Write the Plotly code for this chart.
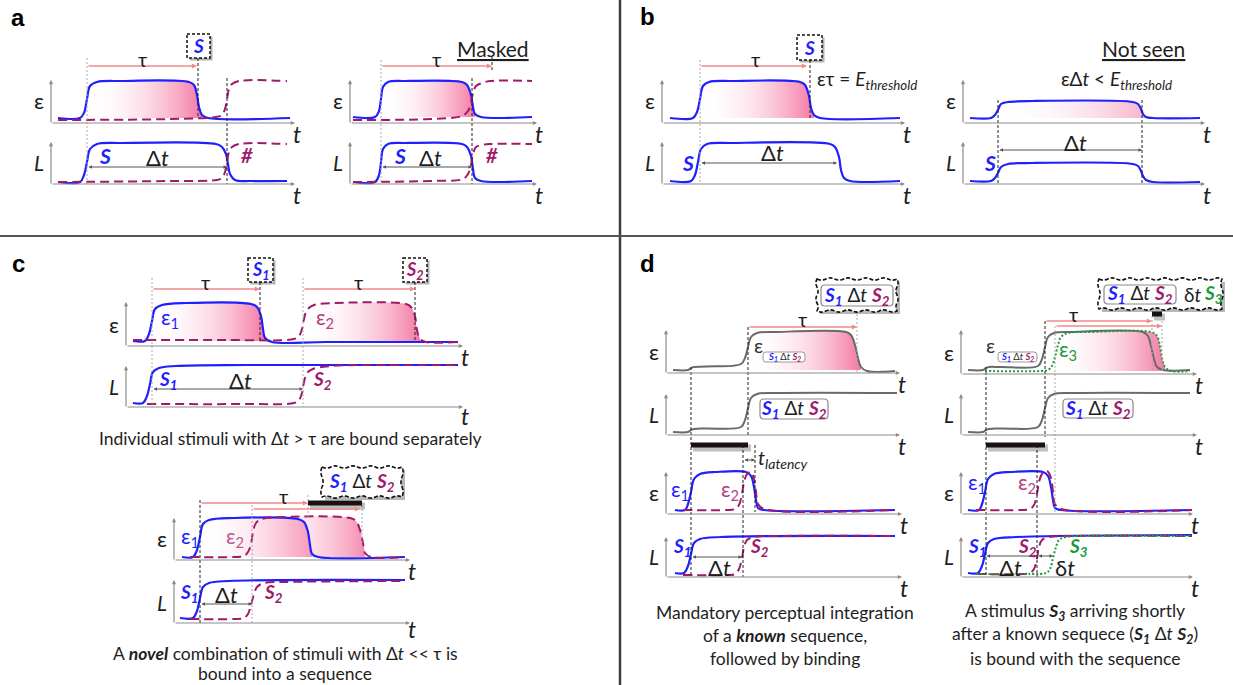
import plotly.graph_objects as go

W, H = 1233, 685
FONT = "Lato, 'Open Sans', 'DejaVu Sans', sans-serif"
BOLDFONT = "'Liberation Sans', Arial, sans-serif"
BLUE = '#1f1fff'
PURPLE = '#a0196b'
GREEN = '#1b9a3c'
GRAY = '#6a6a6a'
DARK = '#1e1e1e'

# ============================ DATA ============================
# Each curve: t = time (axis units from the origin), v = level (units above time axis)
# --- panel a, left ---
A1E_BLUE_T = [7, 29, 33, 36, 39, 46, 70, 138, 143, 146, 148, 151, 157, 239]
A1E_BLUE_V = [5, 5, 10, 24, 37, 41, 42, 41, 38, 28, 16, 8, 5, 5]
A1E_PURP_T = [7, 120, 165, 171, 174, 176, 178, 181, 188, 236]
A1E_PURP_V = [3, 4, 6, 8, 14, 24, 34, 39, 42, 42]
A1L_BLUE_T = [7, 29, 33, 36, 39, 46, 70, 165, 171, 175, 177, 179, 184, 200, 236]
A1L_BLUE_V = [2, 2, 9, 22, 35, 40, 41, 40, 37, 30, 20, 10, 4, 3, 3]
A1L_PURP_T = [7, 120, 166, 171, 174, 176, 178, 181, 188, 236]
A1L_PURP_V = [2, 3, 4, 6, 12, 22, 32, 37, 40, 40]
# --- panel a, right (masked) ---
A2E_BLUE_T = [3, 25, 29, 31, 33, 38, 55, 112, 117, 121, 123, 125, 131, 182]
A2E_BLUE_V = [6, 6, 12, 24, 36, 41, 42, 41, 38, 28, 16, 9, 6, 6]
A2E_PURP_T = [3, 80, 112, 118, 121, 123, 126, 132, 140, 182]
A2E_PURP_V = [3, 4, 7, 12, 20, 30, 37, 40, 42, 42]
A2L_BLUE_T = [3, 25, 29, 31, 33, 38, 55, 112, 117, 121, 123, 125, 131, 182]
A2L_BLUE_V = [2, 2, 9, 22, 35, 40, 41, 40, 37, 28, 15, 6, 3, 3]
A2L_PURP_T = [3, 80, 113, 118, 121, 123, 126, 132, 140, 182]
A2L_PURP_V = [2, 3, 5, 10, 19, 30, 37, 39, 40, 40]
# --- panel b ---
B1E_BLUE_T = [8, 31, 35, 38, 41, 47, 70, 138, 143, 147, 149, 152, 158, 238]
B1E_BLUE_V = [5, 5, 11, 24, 37, 41, 42, 41, 38, 27, 15, 8, 5, 5]
B1L_BLUE_T = [8, 29, 33, 36, 39, 45, 70, 168, 173, 177, 179, 182, 188, 238]
B1L_BLUE_V = [3, 3, 9, 22, 35, 40, 41, 40, 37, 27, 14, 6, 3, 3]
B2E_BLUE_T = [7, 28, 32, 35, 38, 45, 70, 170, 175, 178, 180, 183, 190, 237]
B2E_BLUE_V = [5, 5, 8, 13, 19, 21, 22, 21, 19, 14, 9, 6, 5, 5]
B2L_BLUE_T = [7, 28, 32, 35, 38, 45, 70, 170, 175, 178, 180, 183, 190, 237]
B2L_BLUE_V = [3, 3, 6, 11, 17, 20, 21, 20, 18, 13, 8, 4, 2, 2]
# --- panel c, top ---
C1E_BLUE_T = [7, 19, 23, 26, 29, 36, 60, 125, 131, 135, 137, 139, 146, 200, 332]
C1E_BLUE_V = [5, 5, 12, 25, 37, 41, 43, 42, 39, 30, 17, 8, 4, 4, 4]
C1E_PURP_T = [7, 100, 168, 173, 176, 178, 181, 188, 210, 280, 285, 289, 291, 294, 300, 332]
C1E_PURP_V = [6, 6, 7, 10, 17, 27, 36, 41, 43, 42, 39, 30, 16, 7, 4, 4]
C1L_BLUE_T = [7, 17, 21, 24, 27, 33, 50, 120, 332]
C1L_BLUE_V = [4, 4, 11, 23, 35, 39, 41, 42, 42]
C1L_PURP_T = [21, 120, 168, 173, 176, 178, 181, 187, 205, 260, 332]
C1L_PURP_V = [3, 3, 4, 7, 14, 25, 34, 38, 41, 42, 42]
# --- panel c, bottom ---
C2E_BLUE_T = [8, 19, 23, 26, 29, 35, 60, 124, 130, 134, 136, 138, 144, 231]
C2E_BLUE_V = [3, 3, 10, 23, 36, 40, 42, 41, 38, 28, 15, 6, 3, 3]
C2E_PURP_T = [16, 60, 70, 74, 77, 79, 82, 88, 110, 176, 182, 186, 189, 191, 197, 231]
C2E_PURP_V = [3, 3, 4, 8, 16, 28, 37, 41, 43, 42, 39, 30, 17, 7, 3, 3]
C2L_BLUE_T = [6, 19, 23, 26, 29, 35, 55, 231]
C2L_BLUE_V = [5, 5, 12, 25, 36, 40, 42, 43]
C2L_PURP_T = [16, 60, 70, 74, 77, 80, 83, 90, 110, 231]
C2L_PURP_V = [4, 4, 5, 9, 18, 29, 36, 40, 41, 42]
# --- panel d, left ---
D1E_GRAY_T = [7, 22, 25, 28, 40, 75, 79, 82, 85, 91, 110, 180, 185, 189, 192, 195, 201, 229]
D1E_GRAY_V = [3, 3, 5, 6, 6.5, 9, 15, 26, 36, 40, 41, 41, 38, 28, 15, 6, 2, 2]
D1L_GRAY_T = [7, 22, 25, 28, 40, 75, 79, 82, 85, 91, 110, 231]
D1L_GRAY_V = [3, 3, 5, 6, 6.5, 8, 15, 27, 37, 41, 42, 42]
D1E2_BLUE_T = [9, 19, 22, 25, 28, 34, 50, 80, 85, 88, 90, 92, 98, 229]
D1E2_BLUE_V = [4, 4, 10, 22, 35, 40, 42, 42, 38, 27, 14, 6, 4, 4]
D1E2_PURP_T = [17, 60, 69, 73, 76, 78, 81, 85, 88, 90, 92, 98, 229]
D1E2_PURP_V = [4, 4, 5, 9, 20, 32, 40, 42, 35, 22, 10, 5, 4]
D1L2_BLUE_T = [9, 18, 22, 25, 28, 34, 55, 229]
D1L2_BLUE_V = [4, 4, 11, 23, 34, 38, 40, 41]
D1L2_PURP_T = [17, 60, 69, 73, 76, 78, 81, 88, 110, 229]
D1L2_PURP_V = [2, 2, 3, 8, 19, 30, 37, 40, 41, 41]
# --- panel d, right ---
D2E_GRAY_T = [7, 22, 25, 28, 40, 77, 81, 84, 87, 93, 110, 182, 187, 190, 193, 196, 202, 229]
D2E_GRAY_V = [4, 4, 6, 7, 7, 8, 15, 27, 37, 41, 42, 42, 38, 28, 15, 7, 4, 4]
D2E_GREEN_T = [24, 80, 87, 91, 94, 97, 100, 107, 130, 190, 196, 199, 201, 204, 210, 229]
D2E_GREEN_V = [3, 3, 4, 8, 17, 29, 37, 41, 42, 42, 38, 28, 16, 7, 3, 3]
D2L_GRAY_T = [7, 22, 25, 28, 40, 77, 81, 84, 87, 93, 110, 229]
D2L_GRAY_V = [3, 3, 5, 6, 6.5, 8, 15, 27, 37, 41, 42, 42]
D2E2_BLUE_T = [7, 18, 21, 24, 27, 33, 50, 82, 87, 90, 92, 94, 100, 231]
D2E2_BLUE_V = [4, 4, 10, 22, 35, 40, 42, 42, 38, 27, 14, 6, 4, 4]
D2E2_PURP_T = [15, 60, 69, 73, 76, 78, 81, 86, 90, 92, 94, 100, 231]
D2E2_PURP_V = [4, 4, 5, 9, 20, 32, 40, 43, 36, 22, 10, 5, 4]
D2L2_BLUE_T = [7, 17, 21, 24, 27, 33, 55, 231]
D2L2_BLUE_V = [4, 4, 11, 23, 34, 38, 40, 42]
D2L2_PURP_T = [15, 60, 69, 73, 76, 78, 81, 88, 110, 231]
D2L2_PURP_V = [3, 3, 4, 8, 19, 30, 37, 40, 41, 41]
D2L2_GREEN_T = [15, 70, 85, 89, 92, 95, 98, 105, 130, 231]
D2L2_GREEN_V = [3, 3, 4, 8, 19, 30, 37, 40, 41, 41]

# ============================ LAYOUT ============================
# panel frame (figure px): origin x, time-axis y, time-axis end x, level-axis top y
FRAMES = {
    'a1e': (51, 123, 295, 80), 'a1L': (51, 184, 295, 142),
    'a2e': (350, 123, 537, 80), 'a2L': (350, 184, 537, 142),
    'b1e': (662, 123, 905, 80), 'b1L': (662, 184, 905, 142),
    'b2e': (963, 123, 1205, 80), 'b2L': (963, 184, 1205, 142),
    'c1e': (126, 346, 463, 302), 'c1L': (126, 407, 463, 366),
    'c2e': (174, 560, 410, 518), 'c2L': (174, 623, 410, 580),
    'd1e': (666, 373, 900, 330), 'd1L': (666, 435, 900, 394),
    'd1e2': (666, 514, 902, 472), 'd1L2': (666, 577, 902, 537),
    'd2e': (961, 374, 1197, 330), 'd2L': (961, 435, 1197, 394),
    'd2e2': (961, 514, 1193, 472), 'd2L2': (961, 577, 1193, 537),
}

CURVES = [
    ('a1e', A1E_BLUE_T, A1E_BLUE_V, 'blue'), ('a1e', A1E_PURP_T, A1E_PURP_V, 'purple'),
    ('a1L', A1L_BLUE_T, A1L_BLUE_V, 'blue'), ('a1L', A1L_PURP_T, A1L_PURP_V, 'purple'),
    ('a2e', A2E_BLUE_T, A2E_BLUE_V, 'blue'), ('a2e', A2E_PURP_T, A2E_PURP_V, 'purple'),
    ('a2L', A2L_BLUE_T, A2L_BLUE_V, 'blue'), ('a2L', A2L_PURP_T, A2L_PURP_V, 'purple'),
    ('b1e', B1E_BLUE_T, B1E_BLUE_V, 'blue'), ('b1L', B1L_BLUE_T, B1L_BLUE_V, 'blue'),
    ('b2e', B2E_BLUE_T, B2E_BLUE_V, 'blue'), ('b2L', B2L_BLUE_T, B2L_BLUE_V, 'blue'),
    ('c1e', C1E_BLUE_T, C1E_BLUE_V, 'blue'), ('c1e', C1E_PURP_T, C1E_PURP_V, 'purple'),
    ('c1L', C1L_BLUE_T, C1L_BLUE_V, 'blue'), ('c1L', C1L_PURP_T, C1L_PURP_V, 'purple'),
    ('c2e', C2E_BLUE_T, C2E_BLUE_V, 'blue'), ('c2e', C2E_PURP_T, C2E_PURP_V, 'purple'),
    ('c2L', C2L_BLUE_T, C2L_BLUE_V, 'blue'), ('c2L', C2L_PURP_T, C2L_PURP_V, 'purple'),
    ('d1e', D1E_GRAY_T, D1E_GRAY_V, 'gray'), ('d1L', D1L_GRAY_T, D1L_GRAY_V, 'gray'),
    ('d1e2', D1E2_BLUE_T, D1E2_BLUE_V, 'blue'), ('d1e2', D1E2_PURP_T, D1E2_PURP_V, 'purple'),
    ('d1L2', D1L2_BLUE_T, D1L2_BLUE_V, 'blue'), ('d1L2', D1L2_PURP_T, D1L2_PURP_V, 'purple'),
    ('d2e', D2E_GRAY_T, D2E_GRAY_V, 'gray'), ('d2e', D2E_GREEN_T, D2E_GREEN_V, 'green'),
    ('d2L', D2L_GRAY_T, D2L_GRAY_V, 'gray'),
    ('d2e2', D2E2_BLUE_T, D2E2_BLUE_V, 'blue'), ('d2e2', D2E2_PURP_T, D2E2_PURP_V, 'purple'),
    ('d2L2', D2L2_BLUE_T, D2L2_BLUE_V, 'blue'), ('d2L2', D2L2_PURP_T, D2L2_PURP_V, 'purple'),
    ('d2L2', D2L2_GREEN_T, D2L2_GREEN_V, 'green'),
]

PINK = 'rgba(244,112,158,0.95)'
PINK_LIGHT = 'rgba(245,160,190,0.8)'
# fill under a curve between two times, down to a base level
FILLS = [
    ('a1e', A1E_BLUE_T, A1E_BLUE_V, 36, 151, 5, PINK),
    ('a2e', A2E_BLUE_T, A2E_BLUE_V, 31, 125, 6, PINK),
    ('b1e', B1E_BLUE_T, B1E_BLUE_V, 38, 152, 5, PINK),
    ('b2e', B2E_BLUE_T, B2E_BLUE_V, 35, 183, 5, PINK_LIGHT),
    ('c1e', C1E_BLUE_T, C1E_BLUE_V, 26, 139, 5, PINK),
    ('c1e', C1E_PURP_T, C1E_PURP_V, 178, 294, 5, PINK),
    ('c2e', C2E_BLUE_T, C2E_BLUE_V, 26, 138, 3, 'rgba(244,100,150,0.75)'),
    ('c2e', C2E_PURP_T, C2E_PURP_V, 79, 191, 3, 'rgba(244,100,150,0.75)'),
    ('d1e', D1E_GRAY_T, D1E_GRAY_V, 82, 195, 3, PINK),
    ('d2e', D2E_GREEN_T, D2E_GREEN_V, 91, 204, 3, PINK),
]

STYLE = {
    'blue': dict(color=BLUE, width=2.2),
    'purple': dict(color=PURPLE, width=2, dash='9px,5px'),
    'green': dict(color=GREEN, width=2, dash='2px,2px'),
    'gray': dict(color=GRAY, width=2),
}

PADR, PADB, PADT = 4, 4, 6
fig = go.Figure()
layout_axes = {}
AX = {}
for i, name in enumerate(FRAMES):
    k = i + 1
    sfx = '' if k == 1 else str(k)
    ox, oy, xe, yt = FRAMES[name]
    x1p = xe + PADR
    yb, ytp = oy + PADB, yt - PADT
    layout_axes['xaxis' + sfx] = dict(domain=[ox / W, x1p / W], range=[0, x1p - ox], visible=False,
                                      anchor='y' + sfx, fixedrange=True)
    layout_axes['yaxis' + sfx] = dict(domain=[(H - yb) / H, (H - ytp) / H], range=[-PADB, oy - ytp],
                                      visible=False, anchor='x' + sfx, fixedrange=True)
    AX[name] = ('x' + sfx, 'y' + sfx)

for name, T, V, t0, t1, base, col in FILLS:
    xa, ya = AX[name]
    seg = [(t, v) for t, v in zip(T, V) if t0 <= t <= t1]
    fig.add_trace(go.Scatter(x=[seg[0][0], seg[-1][0]], y=[base, base], mode='lines',
                             line=dict(width=0), xaxis=xa, yaxis=ya, hoverinfo='skip', showlegend=False))
    fig.add_trace(go.Scatter(x=[s[0] for s in seg], y=[s[1] for s in seg], mode='lines',
                             line=dict(width=0, shape='spline', smoothing=1), fill='tonexty',
                             fillgradient=dict(type='horizontal',
                                               colorscale=[[0, 'rgba(255,255,255,0)'], [1, col]]),
                             xaxis=xa, yaxis=ya, hoverinfo='skip', showlegend=False))

for name, T, V, sty in CURVES:
    xa, ya = AX[name]
    fig.add_trace(go.Scatter(x=T, y=V, mode='lines',
                             line=dict(shape='spline', smoothing=1, **STYLE[sty]),
                             xaxis=xa, yaxis=ya, hoverinfo='skip', showlegend=False))

ann, shp = [], []


def P(x, y):
    return x / W, 1 - y / H


def text(x, y, s, size=18, color=DARK, xanchor='center', family=FONT):
    px_, py_ = P(x, y)
    ann.append(dict(x=px_, y=py_, xref='paper', yref='paper', text=s, showarrow=False,
                    font=dict(family=family, size=size, color=color), xanchor=xanchor, yanchor='middle'))


def arrow(x0, y0, x1, y1, color, width=1.0, size=0.8, both=False, head=2):
    hx, hy = P(x1, y1)
    ann.append(dict(x=hx, y=hy, xref='paper', yref='paper', ax=x0 - x1, ay=y0 - y1,
                    axref='pixel', ayref='pixel', text='', showarrow=True, arrowhead=head,
                    arrowsize=size, arrowwidth=width, arrowcolor=color,
                    arrowside='end+start' if both else 'end', startarrowhead=head,
                    startarrowsize=size, standoff=0, startstandoff=0))


def line(x0, y0, x1, y1, color, width=1.0, dash='solid'):
    a, b = P(x0, y0)
    c, d = P(x1, y1)
    shp.append(dict(type='line', xref='paper', yref='paper', x0=a, y0=b, x1=c, y1=d,
                    line=dict(color=color, width=width, dash=dash), layer='above'))


def rect(x0, y0, x1, y1, lc, lw, dash='solid', fill='white'):
    a, b = P(x0, y0)
    c, d = P(x1, y1)
    shp.append(dict(type='rect', xref='paper', yref='paper', x0=a, y0=b, x1=c, y1=d,
                    line=dict(color=lc, width=lw, dash=dash), fillcolor=fill, layer='above'))


def c(x, y):
    return f"{x / W:.5f},{1 - y / H:.5f}"


def rbox(x0, y0, x1, y1, r=4, lc='#8a8a8a', lw=1.2):
    path = (f"M{c(x0 + r, y0)} L{c(x1 - r, y0)} Q{c(x1, y0)} {c(x1, y0 + r)} L{c(x1, y1 - r)} "
            f"Q{c(x1, y1)} {c(x1 - r, y1)} L{c(x0 + r, y1)} Q{c(x0, y1)} {c(x0, y1 - r)} "
            f"L{c(x0, y0 + r)} Q{c(x0, y0)} {c(x0 + r, y0)} Z")
    shp.append(dict(type='path', xref='paper', yref='paper', path=path,
                    line=dict(color=lc, width=lw), fillcolor='white', layer='above'))


def wavy(x0, y0, x1, y1, amp=2.2, seg=9):
    # shadow
    rect(x0 + 3, y0 + 3, x1 + 3, y1 + 3, 'rgba(0,0,0,0)', 0, fill='rgba(0,0,0,0.28)')
    pts = [(x0, y0), (x1, y0), (x1, y1), (x0, y1), (x0, y0)]
    path = f"M{c(x0, y0)}"
    sgn = 1
    for (ax_, ay_), (bx, by) in zip(pts[:-1], pts[1:]):
        L = ((bx - ax_) ** 2 + (by - ay_) ** 2) ** 0.5
        n = max(2, int(round(L / seg)))
        nx, ny = -(by - ay_) / L, (bx - ax_) / L
        for j in range(n):
            sx, sy = ax_ + (bx - ax_) * j / n, ay_ + (by - ay_) * j / n
            ex, ey = ax_ + (bx - ax_) * (j + 1) / n, ay_ + (by - ay_) * (j + 1) / n
            mx, my = (sx + ex) / 2 + nx * amp * sgn, (sy + ey) / 2 + ny * amp * sgn
            path += f" Q{c(mx, my)} {c(ex, ey)}"
            sgn = -sgn
    path += " Z"
    shp.append(dict(type='path', xref='paper', yref='paper', path=path,
                    line=dict(color='#111', width=1.6, dash='4px,2px'), fillcolor='white', layer='above'))


def sbox(x0, y0, x1, y1):
    rect(x0 + 2.5, y0 + 2.5, x1 + 2.5, y1 + 2.5, 'rgba(0,0,0,0)', 0, fill='rgba(0,0,0,0.3)')
    rect(x0, y0, x1, y1, '#111', 1.5, dash='3px,2px')


def bar(x0, x1, y, w=5):
    line(x0 + 2, y + 3, x1 + 3, y + 3, 'rgba(0,0,0,0.25)', w + 2)
    line(x0, y, x1, y, '#1a1212', w)


AXC = '#8c8c8c'
# ---- axes with arrowheads and labels ----
for name, (ox, oy, xe, yt) in FRAMES.items():
    arrow(ox, oy, xe, oy, AXC, width=1.2, size=0.7)
    arrow(ox, oy + 1, ox, yt, AXC, width=1.2, size=0.7)
    dy = {'c1L': 9, 'c2L': 6}.get(name, 11)
    text(xe + 2, oy + dy, '<i>t</i>', size=23)
    if name.endswith('e') or name.endswith('e2'):
        text(ox - 12, oy - 22, 'ε', size=22)
    else:
        text(ox - 12, oy - 21, '<i>L</i>', size=21)

# ---- dividers ----
line(620, 0, 620, 685, '#3c3c3c', 2.5)
line(0, 236, 1233, 236, '#555555', 2.2)

# ---- panel letters ----
for s, x, y in [('a', 18, 18), ('b', 647, 17), ('c', 18, 264), ('d', 647, 263)]:
    text(x, y, f'<b>{s}</b>', size=24, color='#000', family=BOLDFONT)

TAU_LINE = '#f28a8a'


def S(n, col):
    sub = f'<sub>{n}</sub>' if n else ''
    return f"<span style='color:{col}'><b><i>S{sub}</i></b></span>"


SEQ = f"{S(1, BLUE)} Δ<i>t</i> {S(2, PURPLE)}"

# ---- tau arrows ----
for x0, x1, y in [(87, 197, 66), (381, 492, 66), (700, 807, 66), (152, 260, 289), (303, 415, 289),
                  (200, 308, 503), (252, 360, 509), (748, 857, 327), (1045, 1152, 321), (1055, 1162, 326)]:
    arrow(x0, y, x1, y, TAU_LINE, width=1.3, size=0.8)
for x, y in [(142, 59), (437, 59), (755, 59), (205, 282), (358, 282), (283, 496), (803, 319), (1073, 314)]:
    text(x, y, 'τ', size=20)

# ---- Δt arrows ----
for x0, x1, y in [(87, 227, 167), (381, 472, 167), (700, 837, 163), (998, 1142, 150), (152, 303, 389),
                  (200, 252, 604), (691, 742, 557), (985, 1037, 556), (1037, 1053, 556), (743, 755, 460)]:
    arrow(x0, y, x1, y, '#555', width=1, size=0.7, both=True)
for x, y in [(157, 157), (430, 157), (772, 153), (1075, 142), (240, 380), (227, 594), (720, 567), (1010, 567)]:
    text(x, y, 'Δ<i>t</i>', size=22)
text(1065, 567, 'δ<i>t</i>', size=22)

# ---- vertical guides ----
for x, y0, y1 in [(198, 58, 118), (227, 78, 184), (472, 78, 184), (492, 57, 72), (810, 60, 118),
                  (998, 100, 184), (1142, 100, 184), (260, 282, 342), (415, 282, 342), (200, 500, 623),
                  (691, 367, 577), (748, 327, 437), (743, 445, 577), (755, 445, 512), (986, 367, 577),
                  (1045, 321, 437), (1037, 445, 577)]:
    line(x, y0, x, y1, '#222', 1, '3px,2px')
for x, y0, y1 in [(87, 58, 184), (381, 60, 184), (700, 60, 184), (152, 278, 407), (303, 278, 407),
                  (252, 505, 623), (308, 495, 518), (362, 505, 557), (857, 310, 373), (1055, 326, 512),
                  (1152, 316, 372), (1162, 321, 372)]:
    line(x, y0, x, y1, '#aaaaaa', 1, '2px,2px')

# ---- boxes ----
sbox(187, 34, 210, 58)
text(198.5, 46, S(None, BLUE), size=19)
sbox(797, 35, 822, 60)
text(809.5, 47, S(None, BLUE), size=19)
sbox(248, 258, 273, 282)
text(260.5, 270, S(1, BLUE), size=18)
sbox(403, 258, 427, 282)
text(415, 270, S(2, PURPLE), size=18)

wavy(322, 467, 402, 497)
text(362, 482, SEQ, size=19)
wavy(817, 279, 897, 311)
rbox(821, 285, 893, 306)
text(857, 295.5, SEQ, size=19)
wavy(1099, 279, 1222, 309)
rbox(1104, 285, 1176, 304)
text(1140, 294.5, SEQ, size=19)
text(1192, 294.5, 'δ<i>t</i>', size=19)
text(1213, 294.5, S(3, GREEN), size=19)

rbox(760, 399, 828, 419)
text(794, 409, SEQ, size=19)
rbox(1063, 399, 1133, 418)
text(1098, 408.5, SEQ, size=19)

bar(308, 362, 503)
bar(691, 748, 445)
bar(986, 1045, 445)
bar(1152, 1162, 314, w=5)

# ---- stimulus labels ----
text(105, 155, S(None, BLUE), size=21)
text(247, 155, f"<span style='color:{PURPLE}'><b><i>#</i></b></span>", size=20)
text(400, 155, S(None, BLUE), size=21)
text(492, 155, f"<span style='color:{PURPLE}'><b><i>#</i></b></span>", size=20)
text(688, 163, S(None, BLUE), size=21)
text(990, 163, S(None, BLUE), size=21)
text(168, 380, S(1, BLUE), size=19)
text(323, 380, S(2, PURPLE), size=19)
text(190, 593, S(1, BLUE), size=19)
text(273, 593, S(2, PURPLE), size=19)
text(682, 547, S(1, BLUE), size=19)
text(760, 547, S(2, PURPLE), size=19)
text(977, 547, S(1, BLUE), size=19)
text(1027, 547, S(2, PURPLE), size=19)
text(1078, 547, S(3, GREEN), size=19)

# ---- epsilon labels ----
for x, y, n, col in [(170, 318, 1, BLUE), (325, 318, 2, '#b5417f'), (190, 537, 1, BLUE), (235, 537, 2, '#c05a90'),
                     (680, 490, 1, BLUE), (730, 490, 2, '#b5417f'), (977, 483, 1, BLUE), (1027, 483, 2, '#b5417f'),
                     (1068, 350, 3, GREEN)]:
    text(x, y, f'ε<sub>{n}</sub>', size=21, color=col)
for ex, bx0, bx1 in [(758, 763, 805), (990, 998, 1037)]:
    text(ex, 345, 'ε', size=20, color='#333')
    rbox(bx0, 352, bx1, 362, r=3, lc='#999', lw=1)
    text((bx0 + bx1) / 2, 357, SEQ, size=9.5)

# ---- formulas & titles ----
text(493, 48, '<u>Masked</u>', size=21)
text(1143, 48, '<u>Not seen</u>', size=21)
text(815, 80, 'ετ = <i>E</i><sub><i>threshold</i></sub>', size=19, xanchor='left')
text(1059, 80, 'εΔ<i>t</i> &lt; <i>E</i><sub><i>threshold</i></sub>', size=19, xanchor='left')
text(756, 458, '<i>t</i><sub><i>latency</i></sub>', size=20, xanchor='left')

# ---- captions ----
CAP = 17.5
text(290, 438, 'Individual stimuli with Δ<i>t</i> &gt; τ are bound separately', size=CAP)
text(285, 653, 'A <b><i>novel</i></b> combination of stimuli with Δ<i>t</i> &lt;&lt; τ is', size=CAP)
text(285, 673, 'bound into a sequence', size=CAP)
text(785, 612, 'Mandatory perceptual integration', size=CAP)
text(785, 635, 'of a <b><i>known</i></b> sequence,', size=CAP)
text(785, 658, 'followed by binding', size=CAP)
text(1075, 612, "A stimulus <b><i>S<sub>3</sub></i></b> arriving shortly", size=CAP)
text(1075, 635, "after a known sequece (<b><i>S<sub>1</sub></i></b> Δ<i>t</i> <b><i>S<sub>2</sub></i></b>)", size=CAP)
text(1075, 658, 'is bound with the sequence', size=CAP)

fig.update_layout(width=W, height=H, margin=dict(l=0, r=0, t=0, b=0), paper_bgcolor='white',
                  plot_bgcolor='rgba(0,0,0,0)', showlegend=False, annotations=ann, shapes=shp,
                  font=dict(family=FONT, color=DARK), **layout_axes)
fig.write_html('out.html', config={'displayModeBar': False, 'staticPlot': True},
               post_script="document.body.style.margin='0';document.body.style.overflow='hidden';")
